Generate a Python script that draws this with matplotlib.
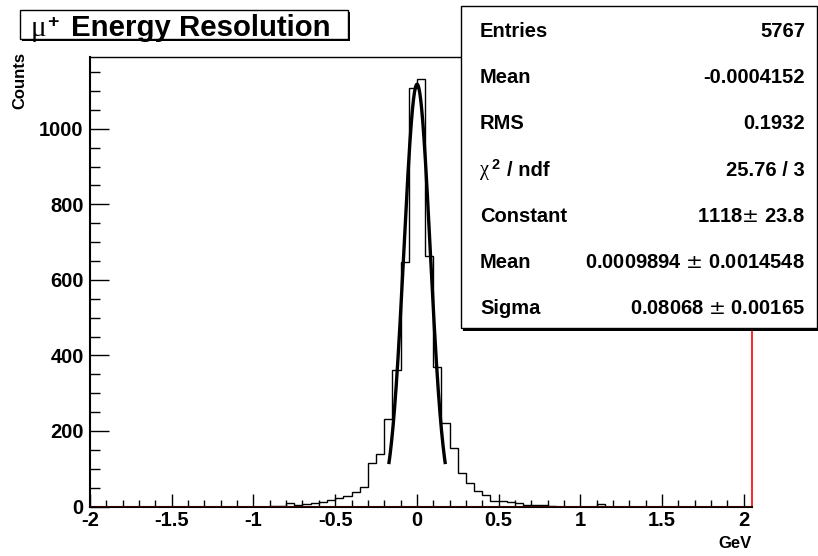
import numpy as np
import matplotlib
matplotlib.use('Agg')
import matplotlib.pyplot as plt
from matplotlib.patches import Rectangle
from matplotlib.ticker import MultipleLocator

plt.rcParams['font.family'] = ['Liberation Sans', 'DejaVu Sans']

# --- histogram: 81 bins of 0.05 GeV starting at -2 GeV ---
bin_lo = -2.0
bin_width = 0.05
counts = [
    0, 0, 0, 0, 0, 0, 0, 0, 0, 0,                    # -2.00 .. -1.55
    0, 0, 0, 0, 0, 0, 0, 0, 0, 0,                    # -1.50 .. -1.05
    0, 0, 1, 2, 9, 4, 7, 9, 13, 17,                  # -1.00 .. -0.55
    23, 28, 38, 51, 116, 138, 232, 362, 646, 1108,   # -0.50 .. -0.05
    1132, 662, 369, 220, 154, 88, 61, 42, 31, 14,    #  0.00 ..  0.45
    15, 12, 8, 4, 5, 3, 1, 0, 0, 0,                  #  0.50 ..  0.95
    0, 0, 7, 0, 0, 0, 0, 0, 0, 0,                    #  1.00 ..  1.45
    0, 0, 0, 0, 0, 0, 0, 0, 0, 0,                    #  1.50 ..  1.95
    0,                                               #  2.00
]

# --- gaussian fit result ---
fit_const = 1118.0
fit_mean = 0.0009894
fit_sigma = 0.08068
fit_range = (-0.172, 0.174)

# --- stats box ---
stat_labels = ['Entries', 'Mean', 'RMS', None, 'Constant', 'Mean', 'Sigma']
stat_values = ['5767', '-0.0004152', '0.1932', '25.76 / 3',
               '1118$\\pm$ 23.8', '0.0009894 $\\pm$ 0.0014548',
               '0.08068 $\\pm$ 0.00165']

x_ticks = [-2, -1.5, -1, -0.5, 0, 0.5, 1, 1.5, 2]
x_ticklabels = ['-2', '-1.5', '-1', '-0.5', '0', '0.5', '1', '1.5', '2']
y_ticks = [0, 200, 400, 600, 800, 1000]

W, H = 818, 556
fig = plt.figure(figsize=(W / 100, H / 100), dpi=100)
fig.patch.set_facecolor('white')

ax = fig.add_axes([90 / W, 1 - 506.5 / H, (752 - 90) / W, (506.5 - 57) / H])
edges = bin_lo + bin_width * np.arange(len(counts) + 1)
ax.stairs(counts, edges, color='black', lw=1.0, zorder=3)

xf = np.linspace(fit_range[0], fit_range[1], 300)
yf = fit_const * np.exp(-0.5 * ((xf - fit_mean) / fit_sigma) ** 2)
ax.plot(xf, yf, color='black', lw=2.4, zorder=4, solid_capstyle='butt')

ax.axhline(0, color='red', lw=1.0, zorder=5)

ax.set_xlim(-2, 2.05)
ax.set_ylim(0, 1190)

ax.set_xticks(x_ticks)
ax.set_xticklabels(x_ticklabels)
ax.set_yticks(y_ticks)
ax.xaxis.set_minor_locator(MultipleLocator(0.1))
ax.yaxis.set_minor_locator(MultipleLocator(50))
ax.tick_params(axis='x', which='major', direction='in', length=9.4, width=1,
               labelsize=14.5, pad=3.5, top=False)
ax.tick_params(axis='x', which='minor', direction='in', length=5, width=1, top=False)
ax.tick_params(axis='y', which='major', direction='in', length=13.7, width=1,
               labelsize=14.5, pad=4.5, right=False)
ax.tick_params(axis='y', which='minor', direction='in', length=7, width=1, right=False)
for lab in ax.get_xticklabels() + ax.get_yticklabels():
    lab.set_fontweight('bold')

ax.spines['left'].set_linewidth(1.5)
ax.spines['bottom'].set_linewidth(1.5)
ax.spines['top'].set_linewidth(1.0)
ax.spines['right'].set_color('red')
ax.spines['right'].set_linewidth(1.2)

# axis titles
fig.text(20 / W, 1 - 52 / H, 'Counts', rotation=90, ha='center', va='top',
         fontsize=12, fontweight='bold')
fig.text(752 / W, 1 - 543 / H, 'GeV', ha='right', va='center',
         fontsize=12, fontweight='bold')

# overlay in pixel coordinates for the title and stats boxes
ov = fig.add_axes([0, 0, 1, 1], zorder=10)
ov.set_xlim(0, W)
ov.set_ylim(H, 0)
ov.axis('off')

# title box
ov.add_patch(Rectangle((22, 12), 328, 29, facecolor='black', edgecolor='none'))
ov.add_patch(Rectangle((20, 10), 328, 29, facecolor='white', edgecolor='black', lw=1))
ov.text(31, 36, 'μ', ha='left', va='baseline', fontsize=21,
        family=['Liberation Serif', 'DejaVu Serif'])
ov.text(47, 23, '+', ha='left', va='center', fontsize=14, fontweight='bold')
ov.text(71, 36, 'Energy Resolution', ha='left', va='baseline', fontsize=21.2,
        fontweight='bold')

# stats box
ov.add_patch(Rectangle((463, 8), 360, 323, facecolor='black', edgecolor='none'))
ov.add_patch(Rectangle((461, 6), 356, 322, facecolor='white', edgecolor='black', lw=1))
row0, row_step = 31.7, 46.1
fs = 14.5
for k, (lab, val) in enumerate(zip(stat_labels, stat_values)):
    y = row0 + row_step * k
    if lab is None:
        ov.text(480, y + 1, 'χ', ha='left', va='center', fontsize=fs,
                family=['Liberation Serif', 'DejaVu Serif'])
        ov.text(491, y - 5, '2', ha='left', va='center', fontsize=10.5,
                fontweight='bold')
        ov.text(507, y, '/ ndf', ha='left', va='center', fontsize=fs,
                fontweight='bold')
    else:
        ov.text(480, y, lab, ha='left', va='center', fontsize=fs,
                fontweight='bold')
    ov.text(805, y, val, ha='right', va='center', fontsize=fs,
            fontweight='bold')

fig.savefig('out.png', dpi=100)
